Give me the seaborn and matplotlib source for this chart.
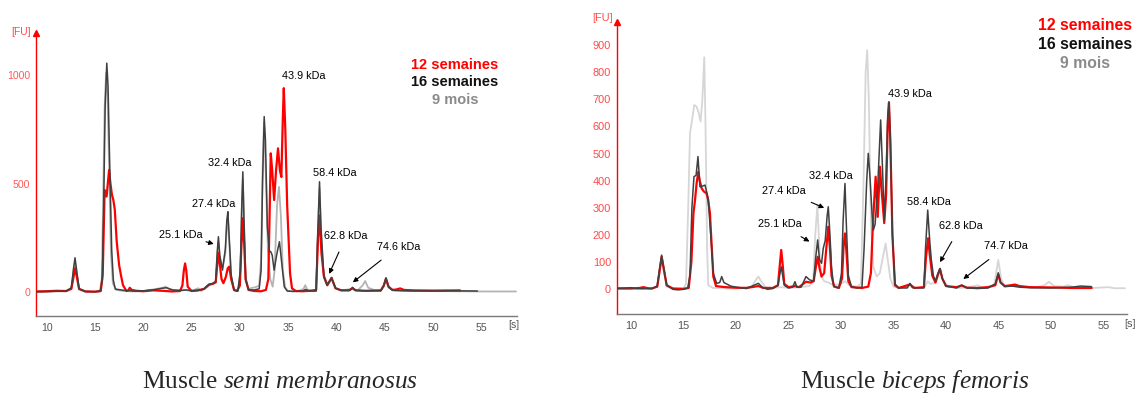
import pandas as pd
import matplotlib
matplotlib.use("Agg")
import matplotlib.pyplot as plt
import seaborn as sns

# ---------------------------------------------------------------------------
# Electropherogram traces: (migration time [s], fluorescence [FU])
# ---------------------------------------------------------------------------

# Muscle semi membranosus
sm_12_semaines = [
    (8.9, 3), (10, 4), (11, 6), (12, 5), (12.55, 15), (12.78, 70), (12.95, 110),
    (13.12, 70), (13.35, 15), (14, 3), (15, 2), (15.6, 5), (15.8, 80),
    (16.0, 470), (16.2, 440), (16.46, 562), (16.6, 500), (16.75, 450),
    (16.9, 424), (17.05, 380), (17.25, 232), (17.5, 124), (17.7, 75),
    (17.9, 32), (18.25, 5), (18.45, 8), (18.6, 20), (18.8, 10), (19.3, 6),
    (20, 4), (21, 8), (22, 6), (23, 3), (23.8, 5), (24.05, 30), (24.2, 100),
    (24.33, 132), (24.45, 100), (24.6, 25), (25, 5), (25.7, 8), (26.3, 15),
    (26.8, 35), (27.2, 38), (27.5, 45), (27.65, 120), (27.8, 180),
    (27.95, 120), (28.1, 60), (28.3, 41), (28.55, 70), (28.75, 110),
    (28.9, 117), (29.1, 60), (29.4, 10), (29.7, 5), (30.0, 30), (30.15, 200),
    (30.3, 340), (30.45, 220), (30.6, 60), (30.9, 10), (31.5, 5), (32.2, 4),
    (32.7, 10), (32.95, 60), (33.1, 400), (33.2, 639), (33.35, 560),
    (33.55, 424), (33.75, 560), (33.95, 662), (34.15, 560), (34.3, 530),
    (34.45, 800), (34.55, 939), (34.7, 760), (34.9, 400), (35.2, 86),
    (35.4, 17), (35.8, 5), (36.5, 4), (37.3, 6), (37.9, 10), (38.1, 250),
    (38.25, 352), (38.45, 180), (38.7, 75), (39.05, 32), (39.5, 66),
    (39.9, 18), (40.5, 8), (41.3, 8), (41.67, 18), (42.0, 8), (43, 6),
    (44.6, 8), (44.9, 30), (45.13, 62), (45.4, 25), (45.8, 10), (46.2, 12),
    (46.6, 17), (47.0, 10), (48, 8), (50, 7), (52.8, 8),
]

sm_16_semaines = [
    (8.9, 2), (10, 3), (11, 4), (12, 4), (12.55, 20), (12.78, 110), (12.93, 158),
    (13.1, 100), (13.35, 15), (14, 3), (15, 2), (15.55, 5), (15.76, 55),
    (15.9, 400), (16.05, 850), (16.22, 1054), (16.35, 950), (16.49, 654),
    (16.73, 194), (16.9, 55), (17.1, 14), (18, 8), (19, 5), (20, 6),
    (21, 10), (22, 18), (22.4, 20), (23, 10), (24, 8), (24.5, 10), (25, 6),
    (25.7, 8), (26.3, 15), (26.8, 35), (27.2, 40), (27.5, 50), (27.65, 180),
    (27.78, 255), (27.92, 170), (28.2, 101), (28.5, 200), (28.65, 330),
    (28.76, 370), (28.9, 250), (29.1, 80), (29.4, 10), (29.8, 5),
    (30.05, 100), (30.2, 400), (30.31, 554), (30.42, 350), (30.6, 60),
    (30.9, 10), (31.5, 10), (32.0, 15), (32.2, 100), (32.35, 500),
    (32.52, 808), (32.65, 700), (32.85, 300), (33.05, 190), (33.2, 186),
    (33.35, 170), (33.55, 101), (33.85, 180), (34.1, 232), (34.3, 150),
    (34.6, 25), (34.9, 5), (35.5, 3), (36.5, 5), (36.8, 12), (37.2, 5),
    (37.9, 5), (38.05, 250), (38.25, 508), (38.4, 300), (38.7, 71),
    (39.05, 32), (39.5, 66), (39.9, 18), (40.5, 8), (41.4, 8), (41.67, 22),
    (41.9, 8), (43, 6), (44.6, 6), (44.9, 30), (45.13, 66), (45.4, 25),
    (45.8, 8), (47, 6), (50, 5), (52, 6), (54.6, 5),
]

sm_9_mois = [
    (8.9, 0), (10, 2), (11, 3), (12, 4), (12.55, 15), (12.78, 95), (12.93, 140),
    (13.1, 90), (13.35, 12), (14, 2), (15, 1), (15.5, 3), (15.7, 60),
    (15.85, 450), (16.0, 850), (16.15, 1010), (16.3, 900), (16.45, 600),
    (16.65, 180), (16.85, 40), (17.2, 10), (18, 5), (19, 3), (20, 5),
    (21, 12), (22, 20), (22.3, 25), (22.7, 15), (23.5, 5), (24.3, 10),
    (25, 5), (25.7, 18), (26, 5), (26.5, 20), (27, 35), (27.5, 45),
    (27.65, 160), (27.78, 230), (27.92, 160), (28.2, 110), (28.5, 180),
    (28.65, 300), (28.76, 340), (28.9, 230), (29.1, 70), (29.4, 8),
    (29.8, 4), (30.05, 90), (30.2, 380), (30.31, 520), (30.42, 330),
    (30.6, 50), (30.9, 15), (31.3, 20), (31.6, 22), (32.0, 30), (32.2, 150),
    (32.35, 550), (32.5, 780), (32.65, 600), (32.9, 200), (33.15, 60),
    (33.4, 25), (33.6, 100), (33.85, 400), (34.05, 485), (34.25, 350),
    (34.45, 100), (34.7, 20), (35, 5), (36, 4), (36.6, 15), (36.77, 32),
    (37.0, 10), (37.9, 5), (38.05, 230), (38.25, 480), (38.4, 280),
    (38.7, 65), (39.05, 30), (39.5, 60), (39.9, 18), (40.5, 8), (41.67, 15),
    (42.2, 8), (42.7, 30), (42.98, 51), (43.3, 20), (44, 8), (44.6, 8),
    (44.9, 25), (45.13, 55), (45.4, 20), (46, 8), (48, 5), (52, 4), (55, 3),
    (58.6, 3),
]

# Muscle biceps femoris
bf_12_semaines = [
    (8.7, 3), (10, 3), (10.8, 5), (11.2, 8), (11.6, 4), (12, 3), (12.5, 10),
    (12.7, 60), (12.92, 120), (13.1, 80), (13.4, 15), (14, 3), (15, 2),
    (15.5, 5), (15.75, 100), (15.95, 280), (16.1, 329), (16.25, 390),
    (16.41, 433), (16.55, 400), (16.73, 372), (16.95, 360), (17.2, 354),
    (17.35, 330), (17.52, 280), (17.7, 150), (17.84, 47), (18.1, 12),
    (18.5, 10), (19, 8), (20, 6), (21, 5), (22.13, 12), (22.6, 5),
    (23.5, 5), (24.0, 15), (24.15, 80), (24.31, 145), (24.45, 90),
    (24.6, 20), (25, 8), (25.62, 12), (26, 8), (26.67, 28), (27.1, 25),
    (27.4, 30), (27.6, 80), (27.78, 120), (27.95, 80), (28.15, 47),
    (28.4, 60), (28.6, 150), (28.79, 231), (28.95, 150), (29.1, 50),
    (29.35, 10), (29.8, 5), (30.1, 40), (30.25, 160), (30.38, 206),
    (30.5, 150), (30.7, 30), (31, 8), (32, 5), (32.6, 10), (32.85, 60),
    (33.05, 250), (33.3, 415), (33.5, 267), (33.71, 452), (33.9, 350),
    (34.12, 244), (34.3, 350), (34.45, 600), (34.57, 688), (34.7, 550),
    (34.9, 200), (35.14, 15), (35.5, 5), (36.57, 18), (37, 5), (37.9, 8),
    (38.1, 120), (38.3, 188), (38.45, 130), (38.7, 50), (39.0, 25),
    (39.2, 50), (39.43, 75), (39.65, 40), (40, 12), (41.0, 8), (41.5, 14),
    (42, 6), (43, 5), (44, 8), (44.7, 15), (44.98, 55), (45.2, 25),
    (45.6, 12), (46.2, 15), (46.6, 17), (47, 12), (48, 8), (50, 7), (52, 5),
    (53.87, 5),
]

bf_16_semaines = [
    (8.7, 4), (9.5, 5), (10, 6), (10.5, 3), (11, 2), (12, 3), (12.5, 12),
    (12.7, 70), (12.92, 126), (13.1, 85), (13.4, 15), (14, 0), (14.5, -2),
    (15, 0), (15.4, 5), (15.62, 50), (15.8, 300), (16.0, 415), (16.2, 420),
    (16.38, 489), (16.57, 378), (16.8, 380), (17.05, 384), (17.2, 360),
    (17.36, 329), (17.6, 200), (17.84, 59), (18.16, 22), (18.45, 25),
    (18.64, 47), (18.85, 25), (19.5, 12), (20, 8), (21, 3), (22.13, 22),
    (22.5, 8), (23, 0), (23.5, 3), (24.0, 15), (24.15, 50), (24.31, 83),
    (24.45, 50), (24.6, 15), (25, 5), (25.4, 8), (25.62, 28), (25.8, 8),
    (26.2, 8), (26.67, 47), (27, 35), (27.4, 30), (27.6, 120), (27.78, 182),
    (27.95, 110), (28.15, 96), (28.31, 151), (28.5, 180), (28.68, 270),
    (28.79, 304), (28.95, 200), (29.1, 80), (29.3, 12), (29.8, 5),
    (30.05, 60), (30.2, 250), (30.38, 390), (30.5, 250), (30.7, 50),
    (31, 10), (31.5, 5), (32, 8), (32.2, 150), (32.45, 400), (32.6, 501),
    (32.75, 420), (33.0, 250), (33.08, 218), (33.25, 240), (33.5, 380),
    (33.78, 624), (33.95, 450), (34.12, 255), (34.3, 420), (34.45, 640),
    (34.57, 691), (34.7, 550), (34.9, 200), (35.14, 20), (35.5, 5),
    (36.3, 5), (36.57, 22), (36.8, 6), (37.9, 5), (38.05, 150), (38.26, 292),
    (38.45, 180), (38.6, 110), (38.8, 50), (39.0, 30), (39.2, 55),
    (39.43, 77), (39.65, 40), (40, 12), (41, 5), (41.5, 16), (42, 5),
    (43, 3), (44, 5), (44.7, 20), (44.98, 61), (45.2, 25), (45.6, 10),
    (46.3, 12), (47, 8), (48, 6), (50, 5), (52, 8), (52.8, 12), (53.87, 10),
]

bf_9_mois = [
    (8.7, 2), (10, 3), (11, 3), (12, 4), (12.5, 10), (12.7, 60), (12.92, 110),
    (13.1, 75), (13.4, 10), (14, 2), (15.0, 2), (15.24, 20), (15.45, 300),
    (15.62, 575), (15.8, 620), (16.03, 679), (16.25, 673), (16.45, 650),
    (16.63, 618), (16.8, 700), (16.98, 855), (17.1, 600), (17.25, 150),
    (17.36, 15), (17.8, 5), (19, 3), (20, 3), (21.5, 10), (21.9, 35),
    (22.13, 47), (22.4, 30), (22.8, 8), (23.5, 5), (24.3, 8), (25, 5),
    (26, 8), (27, 12), (27.35, 30), (27.55, 200), (27.75, 310), (27.95, 150),
    (28.1, 50), (28.4, 30), (28.8, 25), (29.3, 15), (30, 20), (30.4, 30),
    (30.8, 15), (31.5, 10), (31.9, 20), (32.15, 400), (32.35, 800),
    (32.5, 881), (32.65, 700), (32.85, 250), (33.08, 83), (33.4, 47),
    (33.7, 60), (34.0, 120), (34.25, 169), (34.45, 110), (34.7, 40),
    (35.0, 10), (35.5, 5), (36.4, 8), (36.57, 20), (36.8, 8), (37.5, 5),
    (38.0, 10), (38.26, 30), (38.5, 20), (39.0, 25), (39.43, 70),
    (39.7, 35), (40.2, 10), (41, 5), (42, 6), (43, 15), (43.4, 8), (44, 6),
    (44.6, 20), (44.98, 108), (45.25, 40), (45.6, 10), (46.5, 20),
    (47.3, 8), (48.5, 6), (49.4, 15), (49.8, 28), (50.3, 12), (51.2, 10),
    (51.6, 15), (52.2, 8), (54, 5), (55.5, 8), (56, 4), (57.05, 4),
]

series_labels = ["12 semaines", "16 semaines", "9 mois"]
x_ticks = [10, 15, 20, 25, 30, 35, 40, 45, 50, 55]
sm_y_ticks = [0, 500, 1000]
bf_y_ticks = [0, 100, 200, 300, 400, 500, 600, 700, 800, 900]

# Peak annotations: label, text position, arrow tip (None = no arrow)
sm_peaks = [
    ("43.9 kDa", (36.6, 995), None),
    ("32.4 kDa", (28.95, 596), None),
    ("27.4 kDa", (27.3, 405), None),
    ("25.1 kDa", (23.9, 263), (27.3, 222)),
    ("58.4 kDa", (39.8, 550), None),
    ("62.8 kDa", (41.0, 258), (39.25, 84)),
    ("74.6 kDa", (46.4, 209), (41.7, 45)),
]
bf_peaks = [
    ("43.9 kDa", (36.6, 721), None),
    ("32.4 kDa", (29.05, 417), None),
    ("27.4 kDa", (24.6, 363), (28.4, 300)),
    ("25.1 kDa", (24.15, 240), (27.0, 176)),
    ("58.4 kDa", (38.4, 323), None),
    ("62.8 kDa", (41.4, 233), (39.43, 100)),
    ("74.7 kDa", (45.75, 159), (41.65, 38)),
]

# ---------------------------------------------------------------------------
sns.set_style("white")
plt.rcParams["font.family"] = ["Liberation Sans", "DejaVu Sans"]
plt.rcParams["mathtext.fontset"] = "custom"
plt.rcParams["mathtext.rm"] = "Liberation Serif"
plt.rcParams["mathtext.it"] = "Liberation Serif:italic"

RED = "#ff0000"
DARK = "#404040"

fig = plt.figure(figsize=(11.35, 3.94), dpi=100)
W, H = 1135.0, 394.0


def frac(px_left, py_top, px_right, py_bottom):
    return [px_left / W, 1 - py_bottom / H,
            (px_right - px_left) / W, (py_bottom - py_top) / H]


def draw_trace(ax, points, color, lw, z):
    df = pd.DataFrame(points, columns=["t", "fu"])
    sns.lineplot(data=df, x="t", y="fu", ax=ax, color=color, linewidth=lw,
                 sort=False, estimator=None, zorder=z)


def style_axes(ax, xlim, ylim, yticks, ylab_color, fs):
    ax.set_xlim(*xlim)
    ax.set_ylim(*ylim)
    ax.set_xticks(x_ticks)
    ax.set_yticks(yticks)
    ax.set_xlabel("")
    ax.set_ylabel("")
    for side in ("top", "right"):
        ax.spines[side].set_visible(False)
    ax.spines["left"].set_color(RED)
    ax.spines["left"].set_linewidth(1.0)
    ax.spines["bottom"].set_color("#7a7a7a")
    ax.spines["bottom"].set_linewidth(1.0)
    ax.tick_params(axis="y", colors=RED, labelcolor=ylab_color, length=3,
                   width=0.8, direction="out", labelsize=fs, pad=1)
    ax.tick_params(axis="x", colors="#7a7a7a", labelcolor="#555555",
                   length=2, width=0.8, direction="out", labelsize=fs, pad=3)
    ax.plot([0], [1], marker="^", color=RED, markersize=4.5,
            transform=ax.transAxes, clip_on=False)
    ax.set_facecolor("none")


def annotate(ax, peaks, fs):
    for label, txt, tip in peaks:
        if tip is None:
            ax.text(txt[0], txt[1], label, ha="center", va="center",
                    fontsize=fs, color="black")
        else:
            ax.annotate(label, xy=tip, xytext=txt, ha="center", va="center",
                        fontsize=fs, color="black",
                        arrowprops=dict(arrowstyle="-|>", color="black",
                                        lw=0.8, mutation_scale=7,
                                        shrinkA=6, shrinkB=0))


# Left panel: semi membranosus
ax1 = fig.add_axes(frac(35.7, 33, 517, 316))
draw_trace(ax1, sm_9_mois, "#b4b4b4", 1.3, 2)
draw_trace(ax1, sm_12_semaines, RED, 1.6, 3)
draw_trace(ax1, sm_16_semaines, DARK, 1.1, 4)
style_axes(ax1, (8.86, 58.7), (-110, 1193), sm_y_ticks, "#ff5a5a", 7.6)
annotate(ax1, sm_peaks, 7.8)

# Right panel: biceps femoris
ax2 = fig.add_axes(frac(616.7, 21.7, 1127, 314.3))
draw_trace(ax2, bf_9_mois, "#d6d6d6", 1.3, 2)
draw_trace(ax2, bf_12_semaines, RED, 1.6, 3)
draw_trace(ax2, bf_16_semaines, DARK, 1.1, 4)
style_axes(ax2, (8.64, 57.24), (-92, 986), bf_y_ticks, "#ff4a4a", 7.9)
annotate(ax2, bf_peaks, 7.9)

# Axis unit labels
fig.text(21 / W, 1 - 32 / H, "[FU]", color="#ff4a4a", fontsize=7.4,
         ha="center", va="center")
fig.text(603 / W, 1 - 18 / H, "[FU]", color="#ff4a4a", fontsize=7.9,
         ha="center", va="center")
fig.text(514 / W, 1 - 325 / H, "[s]", color="#555555", fontsize=7.6,
         ha="center", va="center")
fig.text(1130 / W, 1 - 324 / H, "[s]", color="#555555", fontsize=7.9,
         ha="center", va="center")

# Series keys
key_colors = [RED, "#111111", "#8a8a8a"]
for i, (lab, col) in enumerate(zip(series_labels, key_colors)):
    fig.text(455 / W, 1 - (65 + 17.5 * i) / H, lab, color=col,
             fontsize=10.5, fontweight="bold", ha="center", va="center")
    fig.text(1085 / W, 1 - (25 + 19.3 * i) / H, lab, color=col,
             fontsize=11.3, fontweight="bold", ha="center", va="center")

# Panel captions
serif = ["Liberation Serif", "DejaVu Serif"]
fig.text(280 / W, 1 - 388 / H, r"Muscle $\mathit{semi\ membranosus}$",
         fontsize=18.3, ha="center", va="baseline", family=serif)
fig.text(915 / W, 1 - 388 / H, r"Muscle $\mathit{biceps\ femoris}$",
         fontsize=18.3, ha="center", va="baseline", family=serif)

fig.savefig("out.png", dpi=100, facecolor="white")
